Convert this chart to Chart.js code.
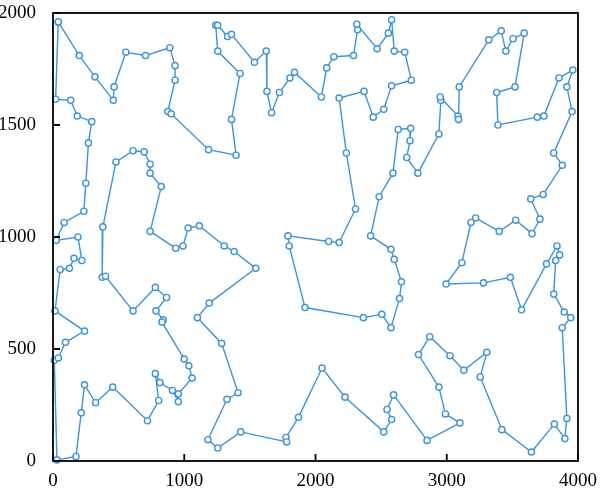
<!DOCTYPE html>
<html>
<head>
<meta charset="utf-8">
<script src="https://cdn.jsdelivr.net/npm/chart.js@4"></script>
<style>
  html, body { margin: 0; padding: 0; background: #fff; }
  #wrap { width: 600px; height: 494px; }
</style>
</head>
<body>
<div id="wrap"><canvas id="tourChart" width="600" height="494"></canvas></div>
<script>
// tour order
const tourX = [40, 200, 320, 460, 465, 555, 705, 890, 930, 930, 875, 900, 1185, 1395, 1360, 1425, 1255, 1240, 1255, 1330,
  1360, 1535, 1625, 1630, 1665, 1725, 1805, 1840, 2045, 2085, 2140, 2290, 2320, 2315, 2470, 2555, 2580, 2600, 2680, 2730,
  2580, 2520, 2440, 2370, 2180, 2235, 2305, 2180, 2100, 1790, 1800, 1920, 2365, 2505, 2575, 2640, 2655, 2600, 2575, 2420,
  2485, 2590, 2630, 2725, 2720, 2695, 2780, 2940, 2955, 2950, 3085, 3090, 3095, 3320, 3415, 3450, 3505, 3590, 3520, 3380,
  3390, 3690, 3740, 3855, 3960, 3915, 3955, 3815, 3880, 3735, 3640, 3710, 3650, 3525, 3400, 3220, 3185, 3115, 2995, 3280,
  3485, 3570, 3760, 3840, 3860, 3830, 3815, 3895, 3945, 3880, 3915, 3900, 3820, 3645, 3420, 3255, 3305, 3130, 3025, 2870,
  2785, 2940, 2990, 3100, 2850, 2595, 2545, 2580, 2520, 2225, 2050, 1870, 1775, 1780, 1430, 1255, 1180, 1325, 1410, 1285,
  1100, 1190, 1545, 1380, 1305, 1115, 1030, 990, 935, 740, 825, 740, 740, 695, 610, 480, 380, 375, 400, 610,
  780, 865, 785, 840, 830, 1000, 1035, 1060, 955, 955, 910, 815, 780, 805, 720, 455, 325, 240, 215, 175,
  30, 10, 40, 95, 240, 15, 55, 125, 160, 220, 190, 25, 85, 235, 250, 270, 295, 185, 135, 20];
const tourY = [1960, 1810, 1715, 1610, 1670, 1825, 1810, 1845, 1765, 1700, 1560, 1550, 1390, 1365, 1525, 1730, 1830, 1945, 1945, 1895,
  1905, 1780, 1830, 1650, 1555, 1645, 1710, 1735, 1625, 1755, 1805, 1810, 1925, 1950, 1840, 1910, 1970, 1830, 1825, 1700,
  1675, 1570, 1535, 1650, 1620, 1375, 1125, 975, 980, 1005, 960, 685, 640, 655, 595, 725, 800, 900, 945, 1005,
  1180, 1285, 1480, 1485, 1430, 1355, 1285, 1460, 1610, 1625, 1540, 1525, 1670, 1880, 1920, 1830, 1885, 1910, 1670, 1645,
  1500, 1535, 1540, 1710, 1745, 1670, 1560, 1375, 1320, 1190, 1170, 1080, 1015, 1075, 1025, 1085, 1065, 885, 790, 795,
  820, 675, 880, 960, 920, 895, 745, 665, 640, 595, 190, 100, 165, 40, 140, 375, 485, 405, 470, 555,
  475, 330, 210, 170, 92, 295, 230, 185, 130, 285, 415, 195, 105, 85, 130, 58, 95, 275, 305, 525,
  640, 705, 860, 935, 960, 1050, 1040, 960, 950, 1025, 1225, 1285, 1325, 1380, 1385, 1335, 1045, 820, 825, 670,
  775, 730, 670, 630, 620, 455, 425, 370, 300, 265, 315, 350, 390, 270, 180, 330, 260, 340, 215, 20,
  5, 450, 460, 530, 580, 670, 855, 860, 905, 895, 1000, 985, 1065, 1115, 1240, 1420, 1515, 1540, 1610, 1615];

const xTicks = [0, 1000, 2000, 3000, 4000];
const yTicks = [0, 500, 1000, 1500, 2000];

const blue = '#3f93d8';
const tickFont = { family: 'Liberation Serif', size: 19 };

const points = tourX.map((x, i) => ({ x: x, y: tourY[i] }));
points.push(points[0]); // close the tour

// frame + inward ticks
const framePlugin = {
  id: 'frame',
  afterDraw(chart) {
    const ctx = chart.ctx;
    const a = chart.chartArea;
    const xs = chart.scales.x, ys = chart.scales.y;
    ctx.save();
    ctx.strokeStyle = '#000';
    ctx.lineWidth = 1.8;
    ctx.strokeRect(a.left, a.top, a.right - a.left, a.bottom - a.top);
    ctx.beginPath();
    xTicks.forEach(v => {
      const px = xs.getPixelForValue(v);
      ctx.moveTo(px, a.bottom);
      ctx.lineTo(px, a.bottom - 7);
    });
    yTicks.forEach(v => {
      const py = ys.getPixelForValue(v);
      ctx.moveTo(a.left, py);
      ctx.lineTo(a.left + 7, py);
    });
    ctx.stroke();
    ctx.restore();
  }
};

const ctx = document.getElementById('tourChart').getContext('2d');
new Chart(ctx, {
  type: 'scatter',
  data: {
    datasets: [{
      data: points,
      showLine: true,
      borderColor: blue,
      borderWidth: 1.4,
      backgroundColor: '#fff',
      pointBorderColor: blue,
      pointBackgroundColor: '#fff',
      pointRadius: 3.1,
      pointBorderWidth: 1.4,
      clip: false
    }]
  },
  options: {
    responsive: false,
    animation: false,
    layout: { padding: { top: 13, right: 22, left: 0, bottom: 0 } },
    plugins: { legend: { display: false }, tooltip: { enabled: false } },
    scales: {
      x: {
        type: 'linear', min: 0, max: 4000,
        afterBuildTicks: s => { s.ticks = xTicks.map(v => ({ value: v })); },
        afterFit: s => { s.height = 33; s.paddingLeft = 0; s.paddingRight = 0; },
        grid: { display: false },
        border: { display: false },
        ticks: { font: tickFont, color: '#000', padding: 1, maxRotation: 0, callback: v => String(v) }
      },
      y: {
        type: 'linear', min: 0, max: 2000,
        afterBuildTicks: s => { s.ticks = yTicks.map(v => ({ value: v })); },
        afterFit: s => { s.width = 53; s.paddingTop = 0; s.paddingBottom = 0; },
        grid: { display: false },
        border: { display: false },
        ticks: { font: tickFont, color: '#000', padding: 9, callback: v => String(v) }
      }
    }
  },
  plugins: [framePlugin]
});
</script>
</body>
</html>
